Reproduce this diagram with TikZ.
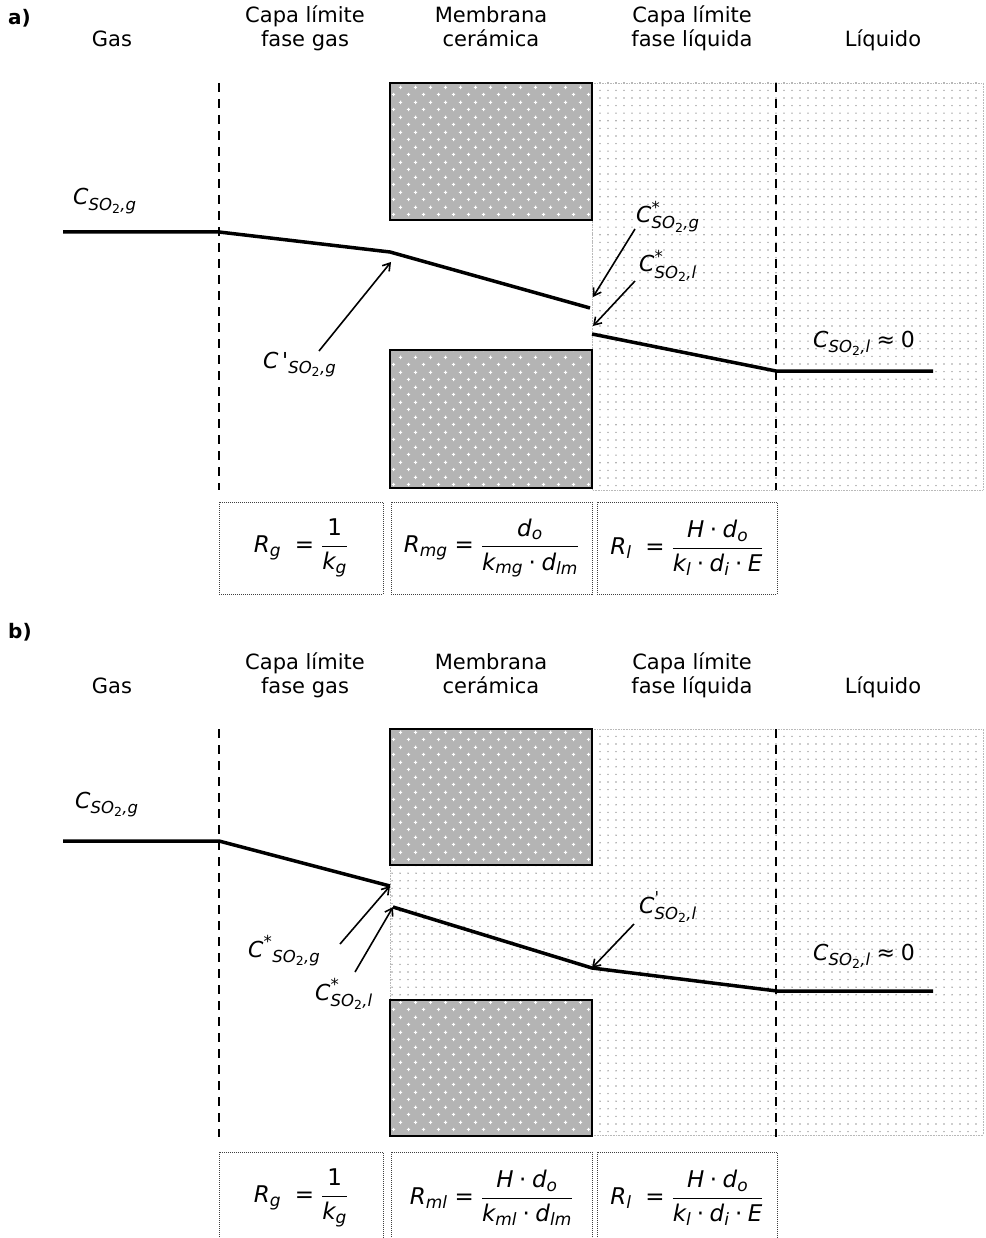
\documentclass[tikz,border=0pt]{standalone}
\usepackage{amsmath}
\usepackage{fontspec}
\setmainfont{DejaVu Sans}
\usetikzlibrary{arrows.meta,patterns.meta}

\DeclareMathSizes{22}{22}{16.5}{12.5}
\DeclareMathSizes{23}{23}{17}{13}

\newcommand{\vi}[1]{\textit{#1}}
\newcommand{\meq}{\mathrel{\textup{=}}}
\newcommand{\mdot}{\mathbin{\textup{·}}}
\newcommand{\sot}{\vi{SO}_{\textup{2}}}

\definecolor{boxgray}{RGB}{180,180,180}
\definecolor{dotgray}{RGB}{155,155,155}

\tikzdeclarepattern{
  name=lightdots, type=uncolored,
  bounding box={(-4pt,-4pt) and (4pt,4pt)},
  tile size={(8pt,7.6pt)},
  code={\fill (0pt,0pt) circle (0.8pt);}
}
\tikzdeclarepattern{
  name=crossdots, type=uncolored,
  bounding box={(0pt,0pt) and (15pt,15pt)},
  tile size={(15pt,15pt)},
  code={
    \fill (2pt,3.25pt) rectangle (5.5pt,4.25pt);
    \fill (3.25pt,2pt) rectangle (4.25pt,5.5pt);
    \fill (9.5pt,10.75pt) rectangle (13pt,11.75pt);
    \fill (10.75pt,9.5pt) rectangle (11.75pt,13pt);
  }
}

\tikzset{
  hdr/.style={font=\fontsize{21}{25}\selectfont, anchor=base, inner sep=0pt},
  tag/.style={font=\fontsize{20}{24}\selectfont\bfseries, anchor=base west, inner sep=0pt},
  lab/.style={font=\fontsize{22}{26}\selectfont, anchor=base west, inner sep=0pt},
  fbox/.style={draw=black!75, densely dotted, line width=1pt, font=\fontsize{23}{27}\selectfont, inner sep=0pt, minimum height=92pt},
  interface/.style={line width=2.5pt, dash pattern=on 9pt off 7pt},
  profile/.style={line width=3.5pt, line join=miter},
  ptr/.style={line width=1.6pt, -{Straight Barb[length=7pt,width=9pt]}},
  region/.style={pattern={lightdots}, pattern color=dotgray},
  regionedge/.style={draw=gray!55, densely dotted, line width=0.6pt},
  membox/.style={line width=2pt},
}

\begin{document}
\begin{tikzpicture}[x=1pt,y=-1pt]
\useasboundingbox (0,0) rectangle (985,1238);

% ================= PANEL A =================
\node[tag] (taga) at (8,25) {a)};
\node[hdr] (ha1) at (112,47) {Gas};
\node[hdr] (ha2a) at (305,23) {Capa límite};
\node[hdr] (ha2b) at (305,47) {fase gas};
\node[hdr] (ha3a) at (491,23) {Membrana};
\node[hdr] (ha3b) at (491,47) {cerámica};
\node[hdr] (ha4a) at (692,23) {Capa límite};
\node[hdr] (ha4b) at (692,47) {fase líquida};
\node[hdr] (ha5) at (883,47) {Líquido};

% liquid-side region
\fill[region] (592,83) rectangle (983,490);
\draw[regionedge] (592,83) rectangle (983,490);

% membrane solid parts
\foreach \ya/\yb in {83/220, 350/488}{
  \fill[boxgray] (390,\ya) rectangle (592,\yb);
  \fill[pattern={crossdots}, pattern color=white] (390,\ya) rectangle (592,\yb);
  \draw[membox] (390,\ya) rectangle (592,\yb);
}

% interfaces
\draw[interface] (219,83) -- (219,490);
\draw[interface] (776,83) -- (776,490);

% concentration profile
\coordinate (pa0) at (63,232);
\coordinate (pa1) at (219,232);
\coordinate (pa2) at (390,252);
\coordinate (pa3) at (590,308);
\coordinate (pa4) at (592,334);
\coordinate (pa5) at (776,371);
\coordinate (pa6) at (933,371);
\draw[profile] (pa0) -- (pa1) -- (pa2) -- (pa3);
\draw[profile] (pa4) -- (pa5) -- (pa6);

% labels
\node[lab] (la1) at (73,205) {$\vi{C}_{\sot\vi{,g}}$};
\node[lab] (la2) at (263,368) {$\vi{C\,\textquotesingle}_{\sot\vi{,g}}$};
\node[lab] (la3) at (636,223) {$\vi{C}^{\textup{*}}_{\sot\vi{,g}}$};
\node[lab] (la4) at (639,272) {$\vi{C}^{\textup{*}}_{\sot\vi{,l}}$};
\node[lab] (la5) at (813,347) {$\vi{C}_{\sot\vi{,l}}\mathrel{\textup{≈}}\textup{0}$};

% pointers
\coordinate (sa2) at (319,351);
\coordinate (ta2) at (391,262);
\coordinate (sa3) at (635,229);
\coordinate (ta3) at (593,297);
\coordinate (sa4) at (635,281);
\coordinate (ta4) at (593,326);
\draw[ptr] (sa2) -- (ta2);
\draw[ptr] (sa3) -- (ta3);
\draw[ptr] (sa4) -- (ta4);

% resistances
\node[fbox, minimum width=164pt] (fa1) at (301,548)
  {$\displaystyle \vi{R}_{\vi{g}}\;\meq\frac{\textup{1}}{\vi{k}_{\vi{g}}}$};
\node[fbox, minimum width=201pt] (fa2) at (491.5,548)
  {$\displaystyle \vi{R}_{\vi{mg}}\meq\frac{\vi{d}_{\vi{o}}}{\vi{k}_{\vi{mg}}\mdot\vi{d}_{\vi{lm}}}$};
\node[fbox, minimum width=180pt] (fa3) at (687,548)
  {$\displaystyle \vi{R}_{\vi{l}}\;\meq\frac{\vi{H}\mdot\vi{d}_{\vi{o}}}{\vi{k}_{\vi{l}}\mdot\vi{d}_{\vi{i}}\mdot\vi{E}}$};

% ================= PANEL B =================
\node[tag] (tagb) at (8,638) {b)};
\node[hdr] (hb1) at (112,693) {Gas};
\node[hdr] (hb2a) at (305,669) {Capa límite};
\node[hdr] (hb2b) at (305,693) {fase gas};
\node[hdr] (hb3a) at (491,669) {Membrana};
\node[hdr] (hb3b) at (491,693) {cerámica};
\node[hdr] (hb4a) at (692,669) {Capa límite};
\node[hdr] (hb4b) at (692,693) {fase líquida};
\node[hdr] (hb5) at (883,693) {Líquido};

\fill[region] (390,729) rectangle (983,1135);
\draw[regionedge] (390,729) rectangle (983,1135);

\foreach \ya/\yb in {729/865, 1000/1136}{
  \fill[boxgray] (390,\ya) rectangle (592,\yb);
  \fill[pattern={crossdots}, pattern color=white] (390,\ya) rectangle (592,\yb);
  \draw[membox] (390,\ya) rectangle (592,\yb);
}

\draw[interface] (219,729) -- (219,1137);
\draw[interface] (776,729) -- (776,1137);

\coordinate (pb0) at (63,841);
\coordinate (pb1) at (219,841);
\coordinate (pb2) at (390,886);
\coordinate (pb3) at (393,907);
\coordinate (pb4) at (592,968);
\coordinate (pb5) at (777,991);
\coordinate (pb6) at (933,991);
\draw[profile] (pb0) -- (pb1) -- (pb2);
\draw[profile] (pb3) -- (pb4) -- (pb5) -- (pb6);

\node[lab] (lb1) at (75,808) {$\vi{C}_{\sot\vi{,g}}$};
\node[lab] (lb2) at (248,957) {${\vi{C}^{\textup{*}}}_{\sot\vi{,g}}$};
\node[lab] (lb3) at (315,1000) {$\vi{C}^{\textup{*}}_{\sot\vi{,l}}$};
\node[lab] (lb4) at (639,913) {$\vi{C}^{\textup{\textquotesingle}}_{\sot\vi{,l}}$};
\node[lab] (lb5) at (813,960) {$\vi{C}_{\sot\vi{,l}}\mathrel{\textup{≈}}\textup{0}$};

\coordinate (sb2) at (340,944);
\coordinate (sb3) at (355,972);
\coordinate (sb4) at (634,924);
\draw[ptr] (sb2) -- (pb2);
\draw[ptr] (sb3) -- (pb3);
\draw[ptr] (sb4) -- (pb4);

\node[fbox, minimum width=164pt] (fb1) at (301,1198)
  {$\displaystyle \vi{R}_{\vi{g}}\;\meq\frac{\textup{1}}{\vi{k}_{\vi{g}}}$};
\node[fbox, minimum width=201pt] (fb2) at (491.5,1198)
  {$\displaystyle \vi{R}_{\vi{ml}}\meq\frac{\vi{H}\mdot\vi{d}_{\vi{o}}}{\vi{k}_{\vi{ml}}\mdot\vi{d}_{\vi{lm}}}$};
\node[fbox, minimum width=180pt] (fb3) at (687,1198)
  {$\displaystyle \vi{R}_{\vi{l}}\;\meq\frac{\vi{H}\mdot\vi{d}_{\vi{o}}}{\vi{k}_{\vi{l}}\mdot\vi{d}_{\vi{i}}\mdot\vi{E}}$};

\end{tikzpicture}
\end{document}
